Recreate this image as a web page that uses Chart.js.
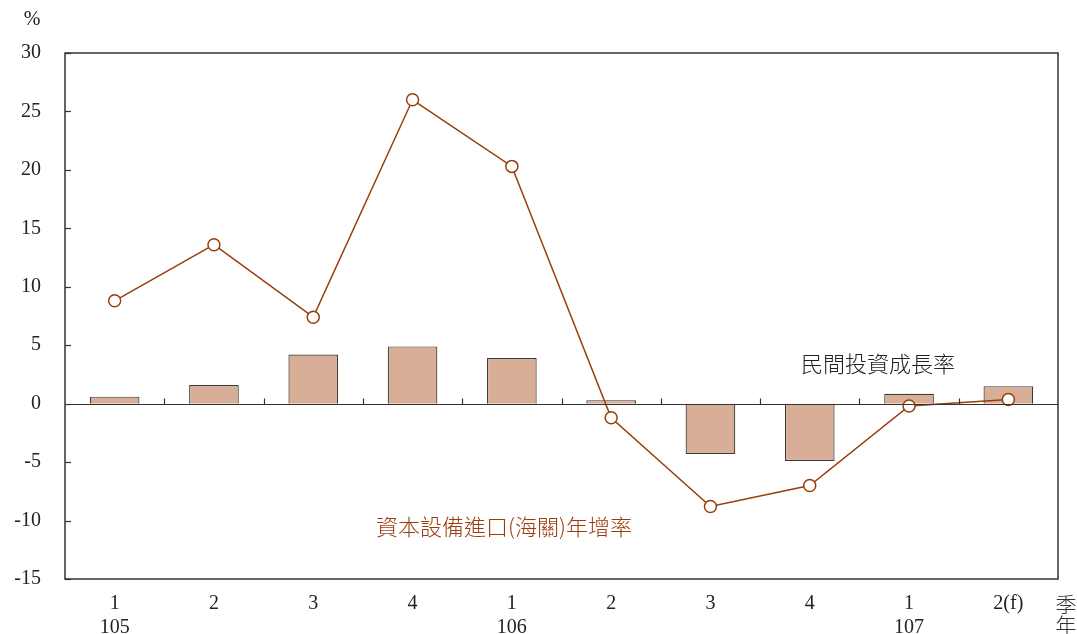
<!DOCTYPE html>
<html><head><meta charset="utf-8">
<script src="https://cdn.jsdelivr.net/npm/chart.js@4"></script>
<style>html,body{margin:0;padding:0;background:#fff}</style>
</head><body>
<canvas id="c" width="1077" height="634"></canvas>
<script>
const quarters = ['1','2','3','4','1','2','3','4','1','2(f)'];
const years = ['105','','','','106','','','','107',''];
const privateInvestment = [0.6, 1.6, 4.2, 4.9, 3.9, 0.3, -4.3, -4.9, 0.85, 1.5];
const capitalImports = [8.8, 13.6, 7.4, 26.0, 20.3, -1.2, -8.8, -7.0, -0.2, 0.35];
const yTicks = [30, 25, 20, 15, 10, 5, 0, -5, -10, -15];

const serif = '"Liberation Serif", "Times New Roman", serif';
const cjk = '"Noto Sans CJK TC", "Noto Sans CJK SC", sans-serif';
const lineColor = '#9a3d0c';

const framePlugin = {
  id: 'frame',
  afterDraw(chart) {
    const {ctx, chartArea: a, scales: {x, y}} = chart;
    ctx.save();
    ctx.strokeStyle = '#333';
    ctx.lineWidth = 1.5;
    ctx.strokeRect(a.left, a.top, a.right - a.left, a.bottom - a.top);
    ctx.lineWidth = 1.2;
    yTicks.forEach(v => {
      const py = Math.round(y.getPixelForValue(v)) + 0.5;
      ctx.beginPath(); ctx.moveTo(a.left, py); ctx.lineTo(a.left + 6, py); ctx.stroke();
    });
    const zy = Math.round(y.getPixelForValue(0)) + 0.5;
    ctx.beginPath(); ctx.moveTo(a.left, zy); ctx.lineTo(a.right, zy); ctx.stroke();
    for (let i = 1; i < quarters.length; i++) {
      const px = Math.round((x.getPixelForValue(i - 1) + x.getPixelForValue(i)) / 2) + 0.5;
      ctx.beginPath(); ctx.moveTo(px, zy); ctx.lineTo(px, zy - 6); ctx.stroke();
    }
    ctx.textAlign = 'center'; ctx.textBaseline = 'middle';
    ctx.fillStyle = '#222';
    ctx.font = '20px ' + serif;
    ctx.fillText('%', 32, 20);
    ctx.font = '300 21px ' + cjk;
    ctx.fillStyle = '#333';
    ctx.fillText('季', 1066, 604);
    ctx.fillText('年', 1066, 625);
    ctx.font = '300 22px ' + cjk;
    ctx.fillStyle = '#222';
    ctx.fillText('民間投資成長率', 878, 364);
    ctx.fillStyle = lineColor;
    ctx.fillText('資本設備進口(海關)年增率', 504, 527);
    ctx.restore();
  }
};

new Chart(document.getElementById('c'), {
  data: {
    labels: quarters.map((q, i) => [q, years[i]]),
    datasets: [
      {
        type: 'line', data: capitalImports, borderColor: lineColor, borderWidth: 1.5,
        pointRadius: 6, pointBackgroundColor: '#fff', pointBorderColor: lineColor,
        pointBorderWidth: 1.5, tension: 0, order: 0
      },
      {
        type: 'bar', data: privateInvestment, backgroundColor: '#d8ae96',
        borderColor: '#3a3a3a', borderWidth: 1.2, barPercentage: 0.5,
        categoryPercentage: 1, order: 1
      }
    ]
  },
  options: {
    responsive: false, animation: false, devicePixelRatio: 1,
    layout: {padding: {top: 53, right: 19, left: 0, bottom: 0}},
    plugins: {legend: {display: false}, tooltip: {enabled: false}},
    scales: {
      x: {
        grid: {display: false, drawTicks: false}, border: {display: false},
        ticks: {color: '#222', font: {family: serif, size: 20}, padding: 13, maxRotation: 0, autoSkip: false},
        afterFit(s) { s.height = 55; }
      },
      y: {
        min: -15, max: 30,
        afterBuildTicks(s) { s.ticks = yTicks.map(v => ({value: v})); },
        grid: {display: false, drawTicks: false}, border: {display: false},
        ticks: {color: '#222', font: {family: serif, size: 20}, padding: 24},
        afterFit(s) { s.width = 65; }
      }
    }
  },
  plugins: [framePlugin]
});
</script>
</body></html>
